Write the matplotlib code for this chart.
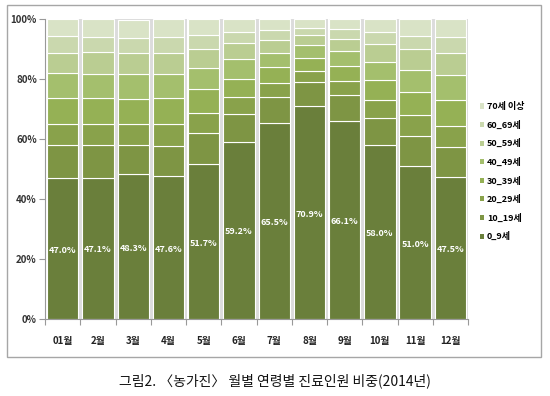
import matplotlib
matplotlib.use("Agg")
import matplotlib.pyplot as plt
from matplotlib.patches import Rectangle, Patch
import numpy as np

plt.rcParams['font.family'] = ['Noto Sans CJK KR', 'DejaVu Sans']

months = ["01월", "2월", "3월", "4월", "5월", "6월", "7월", "8월", "9월", "10월", "11월", "12월"]
age_groups = ["0_9세", "10_19세", "20_29세", "30_39세", "40_49세", "50_59세", "60_69세", "70세 이상"]

age_0_9   = [47.0, 47.1, 48.3, 47.6, 51.7, 59.2, 65.5, 70.9, 66.1, 58.0, 51.0, 47.5]
age_10_19 = [11.2, 10.8, 9.9, 10.0, 10.2, 9.2, 8.4, 8.0, 8.7, 9.2, 10.0, 9.8]
age_20_29 = [7.0, 7.3, 7.0, 7.6, 6.9, 5.5, 4.9, 3.9, 4.5, 5.8, 7.0, 7.1]
age_30_39 = [8.6, 8.4, 8.3, 8.4, 7.8, 6.3, 5.3, 4.3, 5.0, 6.7, 7.8, 8.8]
age_40_49 = [8.2, 8.1, 8.2, 8.3, 7.1, 6.6, 4.7, 4.2, 5.1, 6.1, 7.4, 8.1]
age_50_59 = [6.9, 7.4, 7.0, 6.9, 6.5, 5.4, 4.4, 3.4, 4.0, 5.9, 6.8, 7.5]
age_60_69 = [5.4, 5.0, 4.9, 5.3, 4.6, 3.5, 3.1, 2.5, 3.3, 3.9, 4.3, 5.2]
age_70p   = [5.7, 5.9, 6.3, 5.9, 5.2, 4.3, 3.7, 2.8, 3.3, 4.4, 5.7, 6.0]

series = [age_0_9, age_10_19, age_20_29, age_30_39, age_40_49, age_50_59, age_60_69, age_70p]
colors = ["#6a7f3b", "#7e9544", "#89a24b", "#95b155", "#a4bf6d", "#bacd92", "#cad8ae", "#d9e3c6"]

fig = plt.figure(figsize=(5.5, 3.96), dpi=100)
ax = fig.add_axes([0.082, 0.1944, 0.769, 0.757])

x = np.arange(len(months))
width = 0.89

# shadow behind bars
ax.bar(x + 0.04, [100] * len(x), width=0.99, color="#dcdcdc", zorder=1)

bottom = np.zeros(len(x))
for vals, col, lab in zip(series, colors, age_groups):
    v = np.array(vals)
    ax.bar(x, v, width=width, bottom=bottom, color=col, edgecolor="white",
           linewidth=0.8, zorder=2, label=lab)
    bottom += v

for xi, v in zip(x, age_0_9):
    ax.text(xi, v / 2 - 0.5, f"{v:.1f}%", ha="center", va="center", color="white",
            fontsize=6.5, fontweight="bold", zorder=3)

ax.set_xlim(-0.5, len(x) - 0.5)
ax.set_ylim(0, 100)
ax.set_yticks([0, 20, 40, 60, 80, 100])
ax.set_yticklabels(["0%", "20%", "40%", "60%", "80%", "100%"], fontsize=7, fontweight="bold", color="#333333")
ax.set_xticks(np.arange(-0.5, len(x) + 0.5, 1))
ax.set_xticklabels([])
for xi, m in zip(x, months):
    ax.text(xi, -5.5, m, ha="center", va="top", fontsize=7, fontweight="bold", color="#222222")
ax.tick_params(axis="y", length=4, color="#999999", pad=2)
ax.tick_params(axis="x", length=4, color="#999999")
for s in ["top", "right"]:
    ax.spines[s].set_visible(False)
for s in ["left", "bottom"]:
    ax.spines[s].set_color("#999999")
    ax.spines[s].set_linewidth(0.8)

handles = [Patch(facecolor=c, edgecolor="none") for c in colors]
leg = fig.legend(handles[::-1], age_groups[::-1], loc="upper left",
                 bbox_to_anchor=(0.872, 0.742), frameon=False,
                 prop={"size": 6.5, "weight": "bold"}, handlelength=0.5,
                 handleheight=0.5, handletextpad=0.3, labelspacing=1.05,
                 borderaxespad=0, borderpad=0)

fig.patches.append(Rectangle((7 / 550, 1 - 357 / 396), 534 / 550, 352 / 396,
                             transform=fig.transFigure, fill=False,
                             edgecolor="#a6a6a6", linewidth=1.0))

fig.text(0.5, 1 - 381 / 396, "그림2. 〈농가진〉 월별 연령별 진료인원 비중(2014년)",
         ha="center", va="center", fontsize=10, color="#111111")

fig.savefig("out.png", dpi=100)
